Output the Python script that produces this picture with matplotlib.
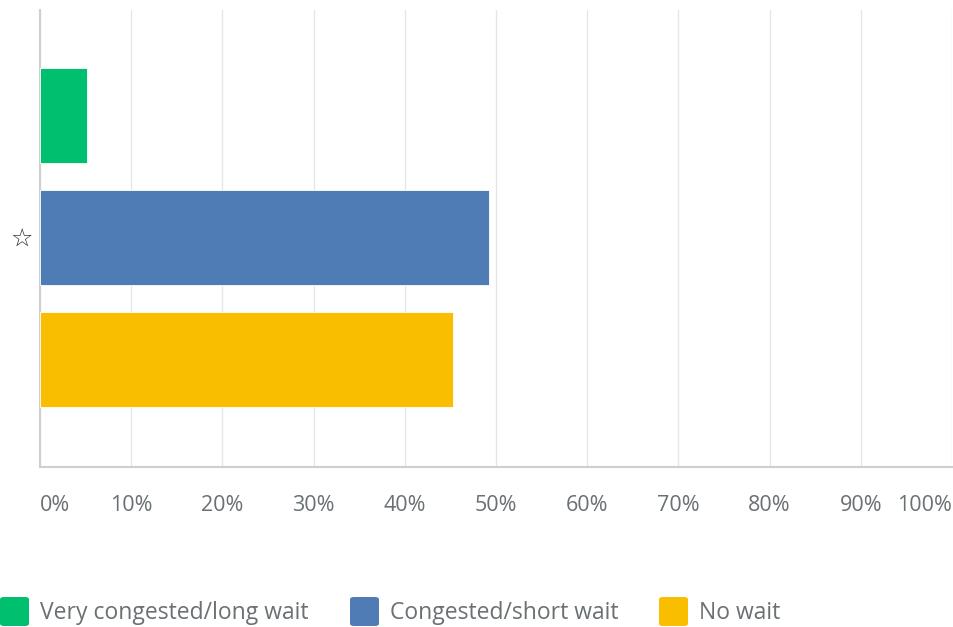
import numpy as np
import matplotlib
matplotlib.use("Agg")
import matplotlib.pyplot as plt
from matplotlib.patches import FancyBboxPatch

# values (percent of respondents)
series = ["Very congested/long wait", "Congested/short wait", "No wait"]
values = [5.13, 49.25, 45.25]
colors = ["#00BF6F", "#507CB6", "#F9BE00"]
category = "☆"
xticks = np.arange(0, 101, 10)
xtick_labels = [f"{t}%" for t in xticks]

W, H = 954, 627
text_grey = "#6A7073"

plt.rcParams["font.family"] = ["Open Sans", "DejaVu Sans"]

fig = plt.figure(figsize=(W / 100, H / 100), dpi=100)
ax = fig.add_axes([40 / W, 1 - 467 / H, (952 - 40) / W, (467 - 10) / H])

ypos = np.arange(len(series))
ax.barh(ypos, values, height=0.78, color=colors, edgecolor="white",
        linewidth=0.6, zorder=3)

ax.set_xlim(0, 100)
ax.set_ylim(2.881, -0.865)

ax.set_xticks(xticks)
ax.set_xticklabels(xtick_labels, fontsize=15.5, color=text_grey)
ax.tick_params(axis="x", length=0, pad=20)
labels = ax.get_xticklabels()
labels[0].set_horizontalalignment("left")
labels[-1].set_horizontalalignment("right")
ax.grid(axis="x", color="#E6E6E6", linewidth=1, zorder=0)

ax.set_yticks([1])
ax.set_yticklabels([category], family=["DejaVu Sans"], fontsize=18,
                   fontweight="bold", color="#333333")
ax.tick_params(axis="y", length=0, pad=5)

for side in ["top", "right"]:
    ax.spines[side].set_visible(False)
for side in ["left", "bottom"]:
    ax.spines[side].set_color("#CFCFCF")
    ax.spines[side].set_linewidth(1.5)

# legend along the bottom edge
legend_x = [0, 350, 659]
for x0, name, c in zip(legend_x, series, colors):
    box = FancyBboxPatch((x0 / W, 1 - 626 / H), 29 / W, 29 / H,
                         boxstyle="round,pad=0,rounding_size=0.004",
                         transform=fig.transFigure, facecolor=c,
                         edgecolor="none")
    fig.add_artist(box)
    fig.text((x0 + 40) / W, 1 - 613 / H, name, fontsize=16.5, color=text_grey,
             va="center", ha="left")

fig.savefig("out.png", dpi=100)
